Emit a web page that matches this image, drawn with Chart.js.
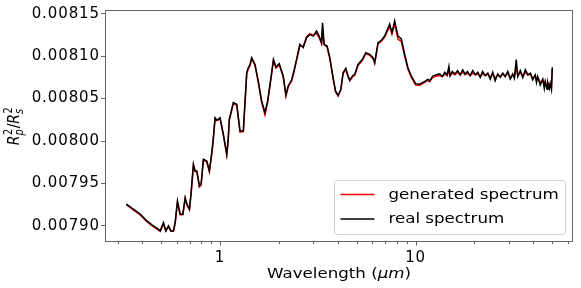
<!DOCTYPE html>
<html><head><meta charset="utf-8">
<script src="https://cdn.jsdelivr.net/npm/chart.js@4"></script>
<style>html,body{margin:0;padding:0;background:#fff}#wrap{width:581px;height:288px}</style>
</head><body><div id="wrap"><canvas id="c" width="581" height="288"></canvas></div>
<script>
// ---- data (wavelength in micrometres, transit depth Rp^2/Rs^2) ----
const wavelength = [
0.3315,0.3908,0.42,0.448,0.477,0.494,0.5137,0.528,0.5447,0.5603,0.5776,0.5893,0.6055,0.6251,0.6452,0.663,0.6764,0.6972,0.7112,0.7307,
0.7454,0.7605,0.7842,0.8,0.8217,0.8552,0.8818,0.907,0.9211,0.943,0.962,0.9802,1.0,1.0395,1.082,1.099,1.115,1.169,1.217,1.265,
1.315,1.369,1.394,1.422,1.451,1.508,1.568,1.632,1.697,1.751,1.836,1.875,1.931,2.007,2.064,2.104,2.172,2.231,2.322,2.386,
2.462,2.559,2.661,2.77,2.879,2.992,3.114,3.21,3.303,3.342,3.405,3.527,3.641,3.785,3.894,4.015,4.144,4.258,4.395,4.515,
4.606,4.754,4.884,5.077,5.347,5.558,5.826,6.056,6.178,6.423,6.683,6.947,7.368,7.57,7.815,8.124,8.453,8.787,9.135,9.509,
10.0,10.48,11.11,11.56,11.79,12.25,13.0,
13.3,13.7,14.1,14.5,14.8,15.0,15.4,15.9,16.4,16.9,17.4,17.9,18.4,19.0,19.6,20.2,20.8,21.4,22.0,22.7,
23.4,24.1,24.8,25.5,26.3,27.1,27.9,28.7,29.6,30.5,31.4,32.0,32.7,33.3,34.3,35.3,36.4,37.5,38.6,39.7,
40.9,41.5,42.1,43.4,44.7,45.5,46.0,47.0,47.4,48.3,48.8,49.5,50.0
];
const realSpectrum = [
0.0079256,0.0079138,0.0079064,0.0079012,0.0078971,0.0078941,0.0079039,0.0078941,0.0079000,0.0078941,0.0078941,0.0079039,0.0079294,0.0079138,0.0079138,0.0079333,0.0079256,0.0079197,0.0079392,0.0079727,
0.0079648,0.0079648,0.0079471,0.0079491,0.0079785,0.0079765,0.0079648,0.0079863,0.0080001,0.0080275,0.0080248,0.0080256,0.0080275,0.0080080,0.0079844,0.0080001,0.0080256,0.0080452,0.0080433,0.0080119,
0.0080119,0.0080805,0.0080864,0.0080896,0.0080982,0.0080904,0.0080707,0.0080472,0.0080334,0.0080472,0.0080805,0.0080961,0.0080872,0.0080911,0.0080825,0.0080766,0.0080543,0.0080649,0.0080719,0.0080825,
0.0080963,0.0081140,0.0081100,0.0081217,0.0081257,0.0081237,0.0081296,0.0081237,0.0081159,0.0081394,0.0081140,0.0081120,0.0080982,0.0080746,0.0080590,0.0080539,0.0080610,0.0080805,0.0080857,0.0080766,
0.0080716,0.0080766,0.0080786,0.0080904,0.0080963,0.0081041,0.0081022,0.0080982,0.0080923,0.0081159,0.0081187,0.0081237,0.0081379,0.0081276,0.0081414,0.0081237,0.0081202,0.0081022,0.0080864,0.0080766,
0.0080676,0.0080669,0.0080699,0.0080728,0.0080707,0.0080766,0.0080786,
0.0080790,0.0080760,0.0080810,0.0080780,0.0080880,0.0080770,0.0080820,0.0080790,0.0080830,0.0080780,0.0080840,0.0080790,0.0080820,0.0080770,0.0080830,0.0080780,0.0080810,0.0080750,0.0080820,0.0080770,
0.0080800,0.0080730,0.0080810,0.0080710,0.0080790,0.0080750,0.0080800,0.0080760,0.0080820,0.0080730,0.0080790,0.0080740,0.0080960,0.0080760,0.0080830,0.0080750,0.0080840,0.0080780,0.0080800,0.0080720,
0.0080780,0.0080690,0.0080760,0.0080660,0.0080730,0.0080620,0.0080700,0.0080610,0.0080690,0.0080620,0.0080680,0.0080610,0.0080870
];
const generatedSpectrum = [
0.0079250,0.0079128,0.0079055,0.0079002,0.0078962,0.0078935,0.0079020,0.0078945,0.0078990,0.0078940,0.0078938,0.0079030,0.0079270,0.0079130,0.0079130,0.0079320,0.0079250,0.0079190,0.0079380,0.0079710,
0.0079640,0.0079640,0.0079460,0.0079480,0.0079770,0.0079755,0.0079640,0.0079850,0.0079990,0.0080260,0.0080240,0.0080250,0.0080265,0.0080070,0.0079835,0.0079990,0.0080245,0.0080440,0.0080425,0.0080105,
0.0080110,0.0080790,0.0080850,0.0080885,0.0080970,0.0080895,0.0080690,0.0080455,0.0080310,0.0080455,0.0080790,0.0080950,0.0080860,0.0080900,0.0080815,0.0080755,0.0080530,0.0080640,0.0080705,0.0080810,
0.0080950,0.0081125,0.0081110,0.0081230,0.0081265,0.0081245,0.0081270,0.0081220,0.0081150,0.0081300,0.0081135,0.0081105,0.0080970,0.0080735,0.0080580,0.0080530,0.0080600,0.0080795,0.0080845,0.0080755,
0.0080710,0.0080755,0.0080775,0.0080890,0.0080950,0.0081030,0.0081010,0.0080970,0.0080915,0.0081145,0.0081175,0.0081225,0.0081350,0.0081260,0.0081380,0.0081200,0.0081175,0.0081000,0.0080845,0.0080750,
0.0080660,0.0080655,0.0080690,0.0080715,0.0080700,0.0080750,0.0080770,
0.0080770,0.0080760,0.0080790,0.0080770,0.0080830,0.0080770,0.0080800,0.0080780,0.0080810,0.0080780,0.0080810,0.0080780,0.0080800,0.0080770,0.0080800,0.0080780,0.0080790,0.0080760,0.0080790,0.0080770,
0.0080790,0.0080750,0.0080790,0.0080740,0.0080780,0.0080760,0.0080790,0.0080760,0.0080800,0.0080750,0.0080780,0.0080760,0.0080860,0.0080770,0.0080810,0.0080760,0.0080810,0.0080780,0.0080790,0.0080740,
0.0080770,0.0080710,0.0080750,0.0080690,0.0080720,0.0080660,0.0080700,0.0080640,0.0080680,0.0080640,0.0080670,0.0080630,0.0080850
];
const seriesLabels = ['generated spectrum', 'real spectrum'];
const seriesColors = ['#ff0000', '#000000'];
const yTickValues = [0.00790, 0.00795, 0.00800, 0.00805, 0.00810, 0.00815];
const xMajorTicks = [1, 10];
const xMinorTicks = [0.3,0.4,0.5,0.6,0.7,0.8,0.9,2,3,4,5,6,7,8,9,20,30,40,50,60];
const xTitleParts = [['Wavelength (', false], ['\u03bcm', true], [')', false]];

const FONT = '"DejaVu Sans", "Liberation Sans", sans-serif';
const STRETCH = 1.19;
const TICK_SPACING = '0.9px';

function drawStretched(ctx, text, x, y, font) {
  ctx.save();
  ctx.font = font;
  ctx.translate(x, y);
  ctx.scale(STRETCH, 1);
  ctx.fillText(text, 0, 0);
  const w = ctx.measureText(text).width * STRETCH;
  ctx.restore();
  return w;
}

const decor = {
  id: 'decor',
  beforeLayout(chart) { chart.ctx.letterSpacing = TICK_SPACING; },
  beforeDraw(chart) {
    const ctx = chart.ctx;
    ctx.save();
    ctx.fillStyle = '#fff';
    ctx.fillRect(0, 0, chart.width, chart.height);
    ctx.restore();
    ctx.letterSpacing = TICK_SPACING;
  },
  afterDraw(chart) {
    const ctx = chart.ctx;
    const a = chart.chartArea;
    const xs = chart.scales.x;
    ctx.save();
    ctx.letterSpacing = '0px';
    // frame
    ctx.strokeStyle = '#666';
    ctx.lineWidth = 1;
    const L = Math.round(a.left) + 0.5, R = Math.round(a.right) - 0.5, T = Math.round(a.top) + 0.5, B = Math.round(a.bottom) - 0.5;
    ctx.strokeRect(L, T, R - L, B - T);
    // x ticks (major + minor)
    xs.ticks.forEach(t => {
      const px = Math.round(xs.getPixelForValue(t.value)) + 0.5;
      const len = xMajorTicks.includes(t.value) ? 4 : 2.5;
      ctx.beginPath();
      ctx.moveTo(px, B);
      ctx.lineTo(px, B + len);
      ctx.stroke();
    });
    // legend
    const bw = 231, bh = 54;
    const bx = Math.round(a.right) - 8 - bw + 0.5, by = Math.round(a.bottom) - 8 - bh + 0.5;
    ctx.fillStyle = 'rgba(255,255,255,0.85)';
    ctx.strokeStyle = '#d0d0d0';
    ctx.beginPath();
    ctx.roundRect(bx, by, bw, bh, 3);
    ctx.fill();
    ctx.stroke();
    chart.data.datasets.forEach((ds, i) => {
      const yy = by + 14 + i * 24.5;
      ctx.strokeStyle = ds.borderColor;
      ctx.lineWidth = 1.5;
      ctx.beginPath();
      ctx.moveTo(bx + 6, yy);
      ctx.lineTo(bx + 40, yy);
      ctx.stroke();
      ctx.fillStyle = '#000';
      ctx.textBaseline = 'middle';
      ctx.textAlign = 'left';
      drawStretched(ctx, ds.label, bx + 54, yy + 0.5, '14px ' + FONT);
    });
    // x title
    ctx.fillStyle = '#000';
    ctx.textBaseline = 'alphabetic';
    ctx.textAlign = 'left';
    let total = 0;
    xTitleParts.forEach(([s, it]) => {
      ctx.font = (it ? 'italic ' : '') + '14px ' + FONT;
      total += ctx.measureText(s).width * STRETCH;
    });
    let x0 = (a.left + a.right) / 2 - total / 2;
    xTitleParts.forEach(([s, it]) => {
      x0 += drawStretched(ctx, s, x0, 278, (it ? 'italic ' : '') + '14px ' + FONT);
    });
    // y title: R_p^2 / R_s^2
    ctx.translate(19, (a.top + a.bottom) / 2);
    ctx.rotate(-Math.PI / 2);
    ctx.scale(1, STRETCH);
    const big = 'italic 14px ' + FONT, norm = '14px ' + FONT;
    const small = '9.8px ' + FONT, smallIt = 'italic 9.8px ' + FONT;
    const pieces = [
      {t: 'R', f: big}, {sup: '2', sub: 'p'}, {t: '/', f: norm}, {t: 'R', f: big}, {sup: '2', sub: 's'}
    ];
    const widthOf = p => {
      if (p.t) { ctx.font = p.f; return ctx.measureText(p.t).width; }
      ctx.font = small; const w1 = ctx.measureText(p.sup).width;
      ctx.font = smallIt; const w2 = ctx.measureText(p.sub).width;
      return Math.max(w1, w2) + 1;
    };
    let tw = 0; pieces.forEach(p => tw += widthOf(p));
    let cx = -tw / 2;
    pieces.forEach(p => {
      const w = widthOf(p);
      if (p.t) { ctx.font = p.f; ctx.fillText(p.t, cx, 0); }
      else {
        ctx.font = small; ctx.fillText(p.sup, cx + 0.5, -6);
        ctx.font = smallIt; ctx.fillText(p.sub, cx, 3.5);
      }
      cx += w;
    });
    ctx.restore();
  }
};

const ctx = document.getElementById('c').getContext('2d');
new Chart(ctx, {
  type: 'line',
  data: {
    datasets: [
      { label: seriesLabels[0], data: wavelength.map((w, i) => ({x: w, y: generatedSpectrum[i]})),
        borderColor: seriesColors[0], borderWidth: 1.5, pointRadius: 0, tension: 0, order: 1 },
      { label: seriesLabels[1], data: wavelength.map((w, i) => ({x: w, y: realSpectrum[i]})),
        borderColor: seriesColors[1], borderWidth: 1.5, pointRadius: 0, tension: 0, order: 0 }
    ]
  },
  options: {
    responsive: false,
    devicePixelRatio: 1,
    animation: false,
    parsing: true,
    layout: { padding: { top: 9, right: 8, left: 0, bottom: 0 } },
    plugins: { legend: { display: false }, tooltip: { enabled: false } },
    scales: {
      x: {
        type: 'logarithmic', min: 0.258, max: 63.8, bounds: 'data',
        afterBuildTicks: s => { s.ticks = xMajorTicks.concat(xMinorTicks).sort((p, q) => p - q).map(v => ({value: v, major: xMajorTicks.includes(v)})); },
        afterFit: s => { s.height = 46; },
        grid: { drawOnChartArea: false, drawTicks: false },
        border: { display: false },
        ticks: { autoSkip: false, maxRotation: 0, padding: 7, color: '#000', font: { family: FONT, size: 15 },
          callback: v => xMajorTicks.includes(v) ? String(v) : '' }
      },
      y: {
        type: 'linear', min: 0.007881, max: 0.0081544,
        afterBuildTicks: s => { s.ticks = yTickValues.map(v => ({value: v})); },
        afterFit: s => { s.width = 105; },
        grid: { drawOnChartArea: false, drawTicks: true, tickLength: 4, tickColor: '#666', tickWidth: 1 },
        border: { display: false },
        ticks: { padding: 1, color: '#000', font: { family: FONT, size: 15 }, callback: v => v.toFixed(5) }
      }
    }
  },
  plugins: [decor]
});
</script></body></html>
